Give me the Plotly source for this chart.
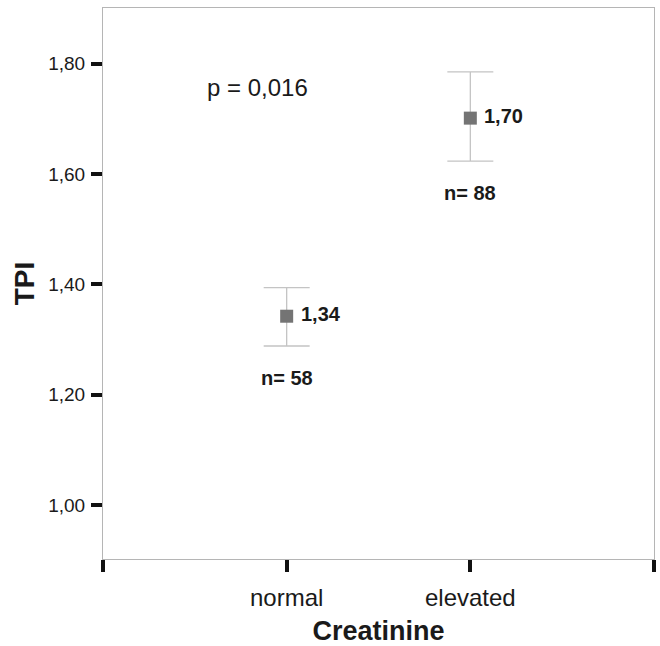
import plotly.graph_objects as go

categories = ["normal", "elevated"]
means = [1.342, 1.701]
upper = [1.394, 1.785]
lower = [1.288, 1.623]
n_labels = ["n= 58", "n= 88"]
mean_labels = ["1,34", "1,70"]
p_text = "p = 0,016"
y_ticks = [1.0, 1.2, 1.4, 1.6, 1.8]

xpos = [i + 1 for i in range(len(categories))]

fig = go.Figure()
fig.add_trace(go.Scatter(
    x=xpos, y=means, mode="markers",
    marker=dict(symbol="square", size=13, color="#747474"),
    error_y=dict(type="data", symmetric=False,
                 array=[u - m for u, m in zip(upper, means)],
                 arrayminus=[m - l for m, l in zip(means, lower)],
                 color="#c4c4c4", thickness=1.3, width=23),
    showlegend=False, hoverinfo="skip"))

font = "Liberation Sans, Arial, sans-serif"
for x, m, lab in zip(xpos, means, mean_labels):
    fig.add_annotation(x=x, y=m, text="<b>%s</b>" % lab, showarrow=False,
                       xanchor="left", xshift=12, yshift=2,
                       font=dict(family=font, size=20, color="#1a1a1a"))
for x, l, lab in zip(xpos, lower, n_labels):
    fig.add_annotation(x=x, y=l, text="<b>%s</b>" % lab, showarrow=False,
                       xanchor="left", xshift=-28, yshift=-32,
                       font=dict(family=font, size=20, color="#1a1a1a"))
fig.add_annotation(x=0.566, y=1.756, xref="x", yref="y", text=p_text, showarrow=False,
                   xanchor="left", xshift=-2, font=dict(family=font, size=24, color="#1a1a1a"))

fig.update_layout(
    width=660, height=646,
    margin=dict(l=103, r=6, t=8, b=87),
    paper_bgcolor="white", plot_bgcolor="white",
    separators=",.",
    xaxis=dict(range=[0, 3], tickvals=[0, 1, 2, 3],
               ticktext=[""] + categories + [""],
               showgrid=False, zeroline=False, automargin=False,
               showline=True, linecolor="#b5b5b5", linewidth=1, mirror=True,
               ticks="outside", ticklen=12, tickwidth=4, tickcolor="#111",
               ticklabelstandoff=5,
               tickfont=dict(family=font, size=24, color="#1a1a1a"),
               title=dict(text="<b>Creatinine</b>", standoff=11,
                          font=dict(family=font, size=27, color="#1a1a1a"))),
    yaxis=dict(range=[0.902, 1.9006], tickvals=y_ticks, tickformat=".2f",
               showgrid=False, zeroline=False, automargin=False,
               showline=True, linecolor="#b5b5b5", linewidth=1, mirror=True,
               ticks="outside", ticklen=11, tickwidth=4, tickcolor="#111",
               ticklabelstandoff=2,
               tickfont=dict(family=font, size=19, color="#1a1a1a"),
               title=dict(text="<b>TPI</b>", standoff=5,
                          font=dict(family=font, size=28, color="#1a1a1a"))),
)

fig.write_html("out.html", config={"displayModeBar": False},
               post_script="document.body.style.margin='0';")
